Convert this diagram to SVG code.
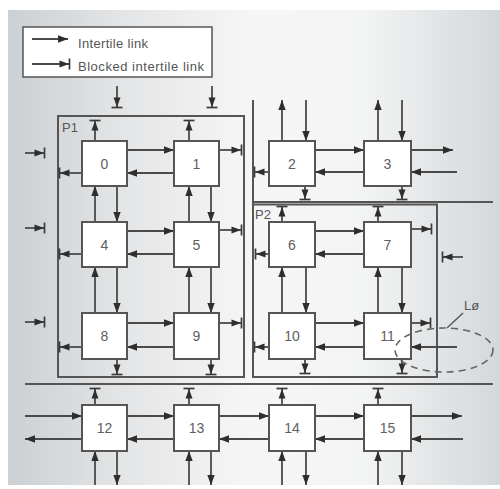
<svg xmlns="http://www.w3.org/2000/svg" width="500" height="489" viewBox="0 0 500 489">
<defs>
<linearGradient id="bg" x1="0" y1="0" x2="1" y2="0">
<stop offset="0" stop-color="#cbd0d4"/>
<stop offset="0.25" stop-color="#e5e6e7"/>
<stop offset="0.5" stop-color="#f6f6f6"/>
<stop offset="0.72" stop-color="#f3f4f4"/>
<stop offset="1" stop-color="#d4d8db"/>
</linearGradient>
<marker id="ah" markerUnits="userSpaceOnUse" markerWidth="12" markerHeight="10" refX="10" refY="5" orient="auto">
<path d="M0,1.3 L10,5 L0,8.7 Z" fill="#2e2e2e"/>
</marker>
<marker id="blk" markerUnits="userSpaceOnUse" markerWidth="14" markerHeight="14" refX="10" refY="7" orient="auto">
<path d="M0.5,3.5 L10,7 L0.5,10.5 Z" fill="#2e2e2e"/>
<path d="M10.5,1.5 V12.5" stroke="#3a3a3a" stroke-width="1.7"/>
</marker>
<style>
.ln{stroke:#4a4a4a;stroke-width:1.8;fill:none}
.a{marker-end:url(#ah)}
.b{marker-end:url(#blk)}
.nd{fill:#fff;stroke:#555;stroke-width:2}
.nt{font-family:"Liberation Sans",Arial,sans-serif;font-size:14px;fill:#606060;text-anchor:middle}
.tx{font-family:"Liberation Sans",Arial,sans-serif;font-size:13px;fill:#555}
.sep{stroke:#555;stroke-width:2;fill:none}
</style>
</defs>
<rect x="0" y="0" width="500" height="489" fill="#fff"/>
<rect x="8" y="10" width="492" height="475" fill="url(#bg)"/>

<g id="legend">
<rect x="23" y="27" width="189" height="50" fill="#fff" stroke="#555" stroke-width="1.5"/>
<line class="ln a" x1="32" y1="39" x2="68" y2="39"/>
<line class="ln b" x1="32" y1="64" x2="69" y2="64"/>
<text class="tx" x="78" y="48" textLength="70" lengthAdjust="spacing">Intertile link</text>
<text class="tx" x="78" y="71" textLength="126" lengthAdjust="spacing">Blocked intertile link</text>
</g>

<g id="partitions">
<rect id="P1" x="58" y="116" width="186" height="261" class="sep"/>
<text class="tx" x="62" y="132">P1</text>
<rect id="P2" x="253" y="204.5" width="184" height="172.5" class="sep"/>
<text class="tx" x="255" y="219">P2</text>
<line class="sep" x1="253" y1="100" x2="253" y2="204"/>
<line class="sep" x1="253" y1="202" x2="493" y2="202"/>
<line class="sep" x1="25" y1="384" x2="493" y2="384"/>
</g>

<g id="connectors">
<line class="ln b" x1="117" y1="86" x2="117" y2="107"/>
<line class="ln b" x1="212" y1="86" x2="212" y2="107"/>
<line class="ln b" x1="25" y1="153" x2="44" y2="153"/>
<line class="ln b" x1="25" y1="228" x2="44" y2="228"/>
<line class="ln b" x1="25" y1="322" x2="44" y2="322"/>
<line class="ln b" x1="95" y1="141" x2="95" y2="121"/>
<line class="ln b" x1="189" y1="141" x2="189" y2="121"/>
<line class="ln a" x1="127" y1="150" x2="174" y2="150"/>
<line class="ln a" x1="174" y1="173" x2="127" y2="173"/>
<line class="ln b" x1="82" y1="173" x2="60" y2="173"/>
<line class="ln b" x1="219" y1="150" x2="241" y2="150"/>
<line class="ln a" x1="117" y1="186" x2="117" y2="222"/>
<line class="ln a" x1="95" y1="222" x2="95" y2="186"/>
<line class="ln a" x1="211" y1="186" x2="211" y2="222"/>
<line class="ln a" x1="189" y1="222" x2="189" y2="186"/>
<line class="ln a" x1="127" y1="231" x2="174" y2="231"/>
<line class="ln a" x1="174" y1="254" x2="127" y2="254"/>
<line class="ln b" x1="82" y1="254" x2="60" y2="254"/>
<line class="ln b" x1="219" y1="230" x2="241" y2="230"/>
<line class="ln a" x1="117" y1="267" x2="117" y2="313"/>
<line class="ln a" x1="95" y1="313" x2="95" y2="267"/>
<line class="ln a" x1="211" y1="267" x2="211" y2="313"/>
<line class="ln a" x1="189" y1="313" x2="189" y2="267"/>
<line class="ln a" x1="127" y1="323" x2="174" y2="323"/>
<line class="ln a" x1="174" y1="347" x2="127" y2="347"/>
<line class="ln b" x1="82" y1="347" x2="60" y2="347"/>
<line class="ln b" x1="219" y1="323" x2="241" y2="323"/>
<line class="ln b" x1="117" y1="359" x2="117" y2="374"/>
<line class="ln b" x1="211" y1="359" x2="211" y2="374"/>
<line class="ln a" x1="282" y1="141" x2="282" y2="100"/>
<line class="ln a" x1="306" y1="100" x2="306" y2="141"/>
<line class="ln a" x1="378" y1="141" x2="378" y2="100"/>
<line class="ln a" x1="402" y1="100" x2="402" y2="141"/>
<line class="ln a" x1="315" y1="150" x2="364" y2="150"/>
<line class="ln a" x1="364" y1="172" x2="315" y2="172"/>
<line class="ln b" x1="269" y1="172" x2="255" y2="172"/>
<line class="ln a" x1="411" y1="150" x2="453" y2="150"/>
<line class="ln a" x1="457" y1="172" x2="411" y2="172"/>
<line class="ln b" x1="305" y1="186" x2="305" y2="199"/>
<line class="ln b" x1="402" y1="186" x2="402" y2="199"/>
<line class="ln b" x1="282" y1="222" x2="282" y2="207"/>
<line class="ln b" x1="378" y1="222" x2="378" y2="207"/>
<line class="ln a" x1="315" y1="231" x2="364" y2="231"/>
<line class="ln a" x1="364" y1="254" x2="315" y2="254"/>
<line class="ln b" x1="269" y1="254" x2="256" y2="254"/>
<line class="ln b" x1="411" y1="229" x2="431" y2="229"/>
<line class="ln b" x1="463" y1="257" x2="443" y2="257"/>
<line class="ln a" x1="306" y1="267" x2="306" y2="313"/>
<line class="ln a" x1="282" y1="313" x2="282" y2="267"/>
<line class="ln a" x1="402" y1="267" x2="402" y2="313"/>
<line class="ln a" x1="378" y1="313" x2="378" y2="267"/>
<line class="ln a" x1="315" y1="323" x2="364" y2="323"/>
<line class="ln a" x1="364" y1="347" x2="315" y2="347"/>
<line class="ln b" x1="269" y1="347" x2="255" y2="347"/>
<line class="ln b" x1="411" y1="323" x2="430" y2="323"/>
<line class="ln b" x1="305" y1="359" x2="305" y2="373"/>
<line class="ln b" x1="402" y1="359" x2="402" y2="373"/>
<line class="ln a" x1="457" y1="347" x2="411" y2="347"/>
<line class="ln b" x1="95" y1="405" x2="95" y2="389"/>
<line class="ln b" x1="189" y1="405" x2="189" y2="389"/>
<line class="ln b" x1="282" y1="405" x2="282" y2="389"/>
<line class="ln b" x1="378" y1="405" x2="378" y2="389"/>
<line class="ln a" x1="25" y1="416" x2="82" y2="416"/>
<line class="ln a" x1="82" y1="439" x2="25" y2="439"/>
<line class="ln a" x1="127" y1="416" x2="174" y2="416"/>
<line class="ln a" x1="174" y1="439" x2="127" y2="439"/>
<line class="ln a" x1="219" y1="416" x2="269" y2="416"/>
<line class="ln a" x1="269" y1="439" x2="219" y2="439"/>
<line class="ln a" x1="315" y1="416" x2="364" y2="416"/>
<line class="ln a" x1="364" y1="439" x2="315" y2="439"/>
<line class="ln a" x1="411" y1="416" x2="462" y2="416"/>
<line class="ln a" x1="463" y1="439" x2="411" y2="439"/>
<line class="ln a" x1="95" y1="485" x2="95" y2="451"/>
<line class="ln a" x1="117" y1="451" x2="117" y2="485"/>
<line class="ln a" x1="189" y1="485" x2="189" y2="451"/>
<line class="ln a" x1="211" y1="451" x2="211" y2="485"/>
<line class="ln a" x1="282" y1="485" x2="282" y2="451"/>
<line class="ln a" x1="306" y1="451" x2="306" y2="485"/>
<line class="ln a" x1="378" y1="485" x2="378" y2="451"/>
<line class="ln a" x1="402" y1="451" x2="402" y2="485"/>
</g>

<g id="n0"><rect class="nd" x="82" y="141" width="45" height="45"/><text class="nt" x="104.5" y="168.5">0</text></g>
<g id="n1"><rect class="nd" x="174" y="141" width="45" height="45"/><text class="nt" x="196.5" y="168.5">1</text></g>
<g id="n2"><rect class="nd" x="269" y="141" width="46" height="45"/><text class="nt" x="292" y="168.5">2</text></g>
<g id="n3"><rect class="nd" x="364" y="141" width="47" height="45"/><text class="nt" x="387.5" y="168.5">3</text></g>
<g id="n4"><rect class="nd" x="82" y="222" width="45" height="45"/><text class="nt" x="104.5" y="249.5">4</text></g>
<g id="n5"><rect class="nd" x="174" y="222" width="45" height="45"/><text class="nt" x="196.5" y="249.5">5</text></g>
<g id="n6"><rect class="nd" x="269" y="222" width="46" height="45"/><text class="nt" x="292" y="249.5">6</text></g>
<g id="n7"><rect class="nd" x="364" y="222" width="47" height="45"/><text class="nt" x="387.5" y="249.5">7</text></g>
<g id="n8"><rect class="nd" x="82" y="313" width="45" height="46"/><text class="nt" x="104.5" y="341">8</text></g>
<g id="n9"><rect class="nd" x="174" y="313" width="45" height="46"/><text class="nt" x="196.5" y="341">9</text></g>
<g id="n10"><rect class="nd" x="269" y="313" width="46" height="46"/><text class="nt" x="292" y="341">10</text></g>
<g id="n11"><rect class="nd" x="364" y="313" width="47" height="46"/><text class="nt" x="387.5" y="341">11</text></g>
<g id="n12"><rect class="nd" x="82" y="405" width="45" height="46"/><text class="nt" x="104.5" y="433">12</text></g>
<g id="n13"><rect class="nd" x="174" y="405" width="45" height="46"/><text class="nt" x="196.5" y="433">13</text></g>
<g id="n14"><rect class="nd" x="269" y="405" width="46" height="46"/><text class="nt" x="292" y="433">14</text></g>
<g id="n15"><rect class="nd" x="364" y="405" width="47" height="46"/><text class="nt" x="387.5" y="433">15</text></g>

<g id="loop">
<ellipse cx="444" cy="350" rx="49" ry="22" fill="none" stroke="#666" stroke-width="1.6" stroke-dasharray="7 5"/>
<line x1="447" y1="328" x2="463" y2="313" stroke="#555" stroke-width="1.4"/>
<text class="tx" x="464" y="310" font-size="12">Lø</text>
</g>
</svg>
